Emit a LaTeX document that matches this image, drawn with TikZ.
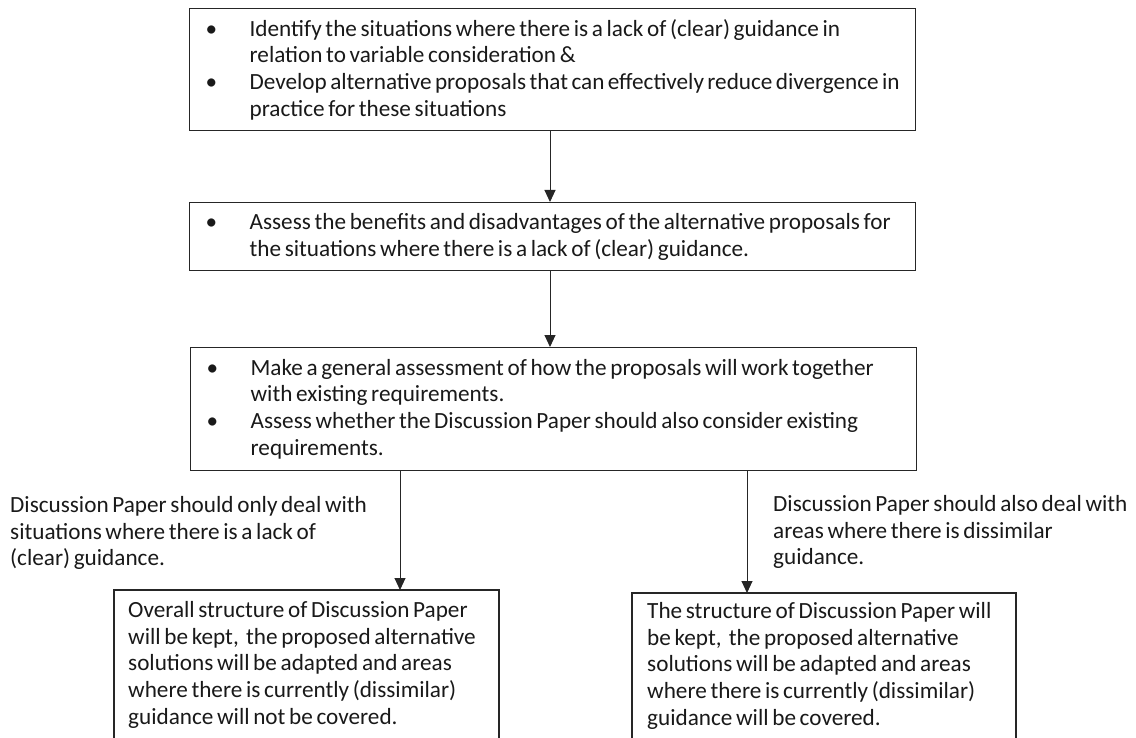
\documentclass[tikz,border=0pt]{standalone}
\usepackage{fontspec}
\setmainfont{Carlito}[WordSpace=0.7]
\usetikzlibrary{arrows.meta}
\newcommand{\dfs}{\fontsize{23.2}{26.8}\selectfont}
\newcommand{\nsp}{\spaceskip=0pt\relax\xspaceskip=0pt\relax\hyphenpenalty=10000\relax\hbadness=10000\relax}
\newcommand{\bul}{\makebox[44pt][l]{\textbullet}}
\newcommand{\ind}{\hspace*{44pt}}
\begin{document}
\begin{tikzpicture}[x=1pt,y=-1pt,
  box/.style={draw=black!85, line width=1.3pt, anchor=north west, inner xsep=16pt, inner ysep=0pt, align=left, font=\dfs, text=black!90, execute at begin node=\nsp},
  lbl/.style={anchor=north west, inner sep=0pt, align=left, font=\dfs, text=black!90, execute at begin node=\nsp},
  frame/.style={draw=black!85, line width=1.3pt},
  arr/.style={draw=black!85, line width=1pt, -{Triangle[length=12pt,width=11pt]}}]
\useasboundingbox (0,0) rectangle (1136,738);
\clip (0,0) rectangle (1136,738);
\node[box, minimum width=726pt, minimum height=122pt, text width=694pt] (b1) at (189,8)
  {\bul Identify the situations where there is a lack of (clear) guidance in\\
   \ind relation to variable consideration \&\\
   \bul Develop alternative proposals that can effectively reduce divergence in\\
   \ind practice for these situations};
\node[box, minimum width=726pt, minimum height=68pt, text width=694pt] (b2) at (189,202)
  {\bul Assess the benefits and disadvantages of the alternative proposals for\\
   \ind the situations where there is a lack of (clear) guidance.};
\node[box, minimum width=726pt, minimum height=123pt, text width=694pt] (b3) at (190,347)
  {\bul Make a general assessment of how the proposals will work together\\
   \ind with existing requirements.\\
   \bul Assess whether the Discussion Paper should also consider existing\\
   \ind requirements.};
\node[lbl] (ll) at (10,496)
  {Discussion Paper should only deal with\\
   situations where there is a lack of\\
   (clear) guidance.};
\node[lbl] (rl) at (773,495)
  {Discussion Paper should also deal with\\
   areas where there is dissimilar\\
   guidance.};
\node[lbl, inner xsep=14pt, inner ysep=11pt] (lb) at (114,590)
  {Overall structure of Discussion Paper\\
   will be kept,\ \ the proposed alternative\\
   solutions will be adapted and areas\\
   where there is currently (dissimilar)\\
   guidance will not be covered.};
\coordinate (lbc) at (499,800);
\draw[frame] (lb.north west) rectangle (lbc);
\node[lbl, inner xsep=15pt, inner ysep=9pt] (rb) at (632,593)
  {The structure of Discussion Paper will\\
   be kept,\ \ the proposed alternative\\
   solutions will be adapted and areas\\
   where there is currently (dissimilar)\\
   guidance will be covered.};
\coordinate (rbc) at (1016,800);
\draw[frame] (rb.north west) rectangle (rbc);
\coordinate (xa) at (550,0);
\coordinate (xl) at (400,0);
\coordinate (xr) at (747,0);
\draw[arr] (b1.south -| xa) -- (b2.north -| xa);
\draw[arr] (b2.south -| xa) -- (b3.north -| xa);
\draw[arr] (b3.south -| xl) -- (lb.north -| xl);
\draw[arr] (b3.south -| xr) -- (rb.north -| xr);
\end{tikzpicture}
\end{document}
